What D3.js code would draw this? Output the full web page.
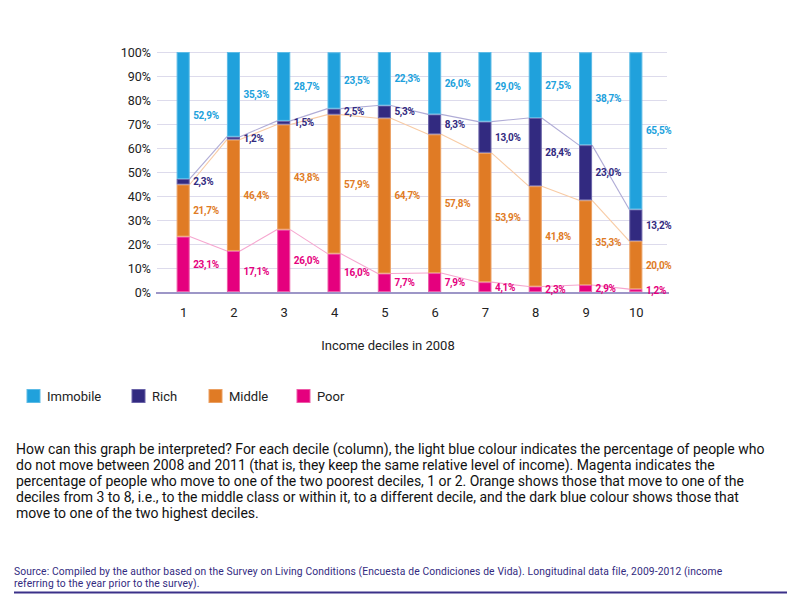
<!DOCTYPE html>
<html>
<head>
<meta charset="utf-8">
<script src="https://cdn.jsdelivr.net/npm/d3@7"></script>
<style>
  html, body { margin: 0; padding: 0; background: #fff; }
  svg { display: block; }
  text { font-family: Roboto, "Liberation Sans", sans-serif; }
</style>
</head>
<body>
<svg id="chart" width="800" height="602"></svg>
<script>
// ---- data ----
const deciles = ["1", "2", "3", "4", "5", "6", "7", "8", "9", "10"];
const seriesNames = ["Poor", "Middle", "Rich", "Immobile"];
const poor     = [23.1, 17.1, 26.0, 16.0, 7.7, 7.9, 4.1, 2.3, 2.9, 1.2];
const middle   = [21.7, 46.4, 43.8, 57.9, 64.7, 57.8, 53.9, 41.8, 35.3, 20.0];
const rich     = [2.3, 1.2, 1.5, 2.5, 5.3, 8.3, 13.0, 28.4, 23.0, 13.2];
const immobile = [52.9, 35.3, 28.7, 23.5, 22.3, 26.0, 29.0, 27.5, 38.7, 65.5];
const yTicks = [0, 10, 20, 30, 40, 50, 60, 70, 80, 90, 100];
const legendOrder = ["Immobile", "Rich", "Middle", "Poor"];
const xTitle = "Income deciles in 2008";
const noteLines = [
  "How can this graph be interpreted? For each decile (column), the light blue colour indicates the percentage of people who",
  "do not move between 2008 and 2011 (that is, they keep the same relative level of income). Magenta indicates the",
  "percentage of people who move to one of the two poorest deciles, 1 or 2. Orange shows those that move to one of the",
  "deciles from 3 to 8, i.e., to the middle class or within it, to a different decile, and the dark blue colour shows those that",
  "move to one of the two highest deciles."
];
const sourceLines = [
  "Source: Compiled by the author based on the Survey on Living Conditions (Encuesta de Condiciones de Vida). Longitudinal data file, 2009-2012 (income",
  "referring to the year prior to the survey)."
];

// ---- styles ----
const fillColor  = { Immobile: "#20a1dc", Rich: "#322a80", Middle: "#e07b25", Poor: "#e5007e" };
const edgeColor  = { Immobile: "#5cbbe6", Rich: "#6a63a8", Middle: "#eba062", Poor: "#ee5aa8" };
const labelColor = { Immobile: "#20a1dc", Rich: "#322a80", Middle: "#e07b25", Poor: "#e5007e" };
const lineColor  = { Rich: "#b0acd6", Middle: "#f8cba4", Poor: "#f6a6cf" };

const valuesBy = { Poor: poor, Middle: middle, Rich: rich, Immobile: immobile };
const rows = deciles.map((d, i) => {
  const r = { decile: d };
  seriesNames.forEach(s => r[s] = valuesBy[s][i]);
  return r;
});

const svg = d3.select("#chart");

const x = d3.scaleBand().domain(deciles).range([158, 661]).paddingInner(0.74).paddingOuter(0.37);
const y = d3.scaleLinear().domain([0, 100]).range([292, 52]);

const stack = d3.stack().keys(seriesNames);
const stacked = stack(rows);

// gridlines
svg.append("g").selectAll("line").data(yTicks.filter(t => t > 0)).join("line")
  .attr("x1", 157).attr("x2", 667)
  .attr("y1", d => y(d) + 0.5).attr("y2", d => y(d) + 0.5)
  .attr("stroke", "#dddbec").attr("stroke-width", 1);

// y axis labels
const yAxis = d3.axisLeft(y).tickValues(yTicks).tickFormat(d => d + "%").tickSize(0).tickPadding(0);
const yg = svg.append("g").attr("transform", "translate(151,0)").call(yAxis);
yg.select(".domain").remove();
yg.selectAll("text").attr("font-size", 12.5).attr("fill", "#222").attr("font-family", "Roboto, sans-serif");

// series lines (connect segment tops between bar edges)
["Poor", "Middle", "Rich"].forEach(key => {
  const layer = stacked.find(l => l.key === key);
  const segs = [];
  for (let i = 0; i < deciles.length - 1; i++) {
    segs.push({
      x1: x(deciles[i]) + x.bandwidth(), y1: y(layer[i][1]),
      x2: x(deciles[i + 1]), y2: y(layer[i + 1][1])
    });
  }
  svg.append("g").selectAll("line").data(segs).join("line")
    .attr("x1", d => d.x1).attr("y1", d => d.y1)
    .attr("x2", d => d.x2).attr("y2", d => d.y2)
    .attr("stroke", lineColor[key]).attr("stroke-width", 1.1);
});

// bars
const barG = svg.append("g");
stacked.forEach(layer => {
  barG.append("g").selectAll("rect").data(layer).join("rect")
    .attr("x", d => x(d.data.decile) + 0.5)
    .attr("width", x.bandwidth() - 1)
    .attr("y", d => y(Math.min(d[1], 100)) + 0.5)
    .attr("height", d => Math.max(0, y(d[0]) - y(Math.min(d[1], 100)) - 1))
    .attr("fill", fillColor[layer.key])
    .attr("stroke", edgeColor[layer.key]).attr("stroke-width", 1);
});

// x axis baseline
svg.append("line").attr("x1", 156).attr("x2", 669).attr("y1", 293).attr("y2", 293)
  .attr("stroke", "#9d96c7").attr("stroke-width", 2);

// x tick labels
const xAxis = d3.axisBottom(d3.scalePoint().domain(deciles).range([x(deciles[0]) + x.bandwidth() / 2, x(deciles[9]) + x.bandwidth() / 2]))
  .tickSize(0).tickPadding(0);
const xg = svg.append("g").attr("transform", "translate(0,308)").call(xAxis);
xg.select(".domain").remove();
xg.selectAll("text").attr("font-size", 13).attr("fill", "#222").attr("font-family", "Roboto, sans-serif");

// x title
svg.append("text").attr("x", 388).attr("y", 350).attr("text-anchor", "middle")
  .attr("font-size", 13).attr("fill", "#222").text(xTitle);

// value labels
const fmt = v => d3.format(".1f")(v).replace(".", ",") + "%";
stacked.forEach(layer => {
  svg.append("g").selectAll("text").data(layer).join("text")
    .attr("x", d => x(d.data.decile) + x.bandwidth() + 3.5)
    .attr("y", d => y((d[0] + Math.min(d[1], 100)) / 2))
    .attr("dy", "0.35em")
    .attr("font-size", 10)
    .attr("font-weight", "bold")
    .attr("letter-spacing", -0.3)
    .attr("font-family", "'Liberation Sans', Arial, sans-serif")
    .attr("fill", labelColor[layer.key])
    .text(d => fmt(d.data[layer.key]));
});

// legend
const legendX = { Immobile: 27, Rich: 132, Middle: 209, Poor: 297 };
const lg = svg.append("g");
legendOrder.forEach(k => {
  lg.append("rect").attr("x", legendX[k]).attr("y", 389.5).attr("width", 13).attr("height", 13)
    .attr("fill", fillColor[k]).attr("stroke", edgeColor[k]).attr("stroke-width", 1);
  lg.append("text").attr("x", legendX[k] + 20).attr("y", 401).attr("font-size", 13)
    .attr("fill", "#222").text(k);
});

// note paragraph
svg.append("g").selectAll("text").data(noteLines).join("text")
  .attr("x", 16).attr("y", (d, i) => 454 + i * 16)
  .attr("font-size", 14).attr("fill", "#111").attr("letter-spacing", -0.02)
  .text(d => d);

// source
svg.append("g").selectAll("text").data(sourceLines).join("text")
  .attr("x", 14).attr("y", (d, i) => 575 + i * 11.5)
  .attr("font-size", 10.3).attr("fill", "#322a80").attr("letter-spacing", 0.12)
  .text(d => d);
svg.append("line").attr("x1", 14).attr("x2", 787).attr("y1", 592.5).attr("y2", 592.5)
  .attr("stroke", "#3b3189").attr("stroke-width", 2);
</script>
</body>
</html>
